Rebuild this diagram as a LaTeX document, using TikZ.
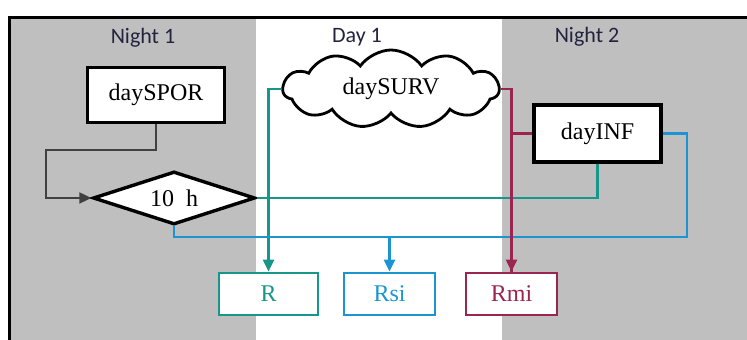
\documentclass[tikz,border=0pt]{standalone}
\usepackage{fontspec}
\setmainfont{Liberation Serif}
\newfontfamily\panelfont{Carlito}
\usetikzlibrary{arrows.meta,positioning,shapes.geometric,shapes.symbols}
\definecolor{nightgray}{HTML}{BFBFBF}
\definecolor{survteal}{HTML}{17968A}
\definecolor{siblue}{HTML}{1B95D2}
\definecolor{mimaroon}{HTML}{992550}
\definecolor{labelnavy}{HTML}{23233F}

\begin{document}
\begin{tikzpicture}[
  x=0.5pt, y=-0.5pt,
  proc/.style={draw, line width=1.7pt, fill=white, inner sep=1pt,
    font=\fontsize{12}{14}\selectfont},
  outbox/.style={draw, line width=1.4pt, fill=white, inner sep=1pt,
    minimum height=21pt, font=\fontsize{12}{14}\selectfont},
  panel/.style={font=\panelfont\fontsize{11}{13}\selectfont, text=labelnavy},
  link/.style={line width=1.1pt},
  tip/.style={-{Triangle[length=6pt,width=5.5pt]}}
]
  \useasboundingbox (0,0) rectangle (747,340);

  % panels
  \fill[nightgray] (10,18) rectangle (256,340);
  \fill[nightgray] (502,18) rectangle (747,340);
  \draw[line width=1.5pt] (9.5,340) -- (9.5,17.5) -- (747,17.5);
  \node[panel] (night1) at (143,38) {Night 1};
  \node[panel] (day1) at (357,37) {Day 1};
  \node[panel] (night2) at (587,37) {Night 2};

  % nodes
  \node[proc, minimum width=68.5pt, minimum height=27.5pt] (spor) at (156,95) {daySPOR};
  \node[proc, diamond, aspect=3, minimum width=81pt, minimum height=26.5pt] (dec) at (174,198) {10\ \ h};
  \node[proc, cloud, cloud puffs=11, cloud puff arc=110, aspect=2.9,
    minimum width=108pt, minimum height=39pt, line width=1.4pt] (surv) at (391,89) {daySURV};
  \node[proc, minimum width=63.5pt, minimum height=28.5pt] (inf) at (597.5,133.5) {dayINF};
  \node[outbox, draw=survteal, text=survteal, minimum width=49.5pt] (R) at (268.5,294) {R};
  \node[outbox, draw=siblue, text=siblue, minimum width=45.5pt] (Rsi) at (389.5,294) {Rsi};
  \node[outbox, draw=mimaroon, text=mimaroon, minimum width=45.5pt] (Rmi) at (511.5,294) {Rmi};

  \coordinate (silow) at (389.5,237);
  \coordinate (sibend) at (687,133.5);

  % connectors
  \draw[link, black!75, tip] (spor.south) -- ++(0,25.5) -| ([xshift=-22.5pt]dec.west) -- (dec.west);
  \draw[link, survteal, tip] (surv.west) -| (R.north);
  \draw[link, survteal] (dec.east) -| (inf.south);
  \draw[link, siblue] (dec.south) |- (silow) -| (sibend) -- (inf.east);
  \draw[link, siblue, tip] (silow) -- (Rsi.north);
  \draw[link, mimaroon] (surv.east) -| (Rmi.north);
  \draw[link, mimaroon, tip] (inf.west) -| (Rmi.north);
\end{tikzpicture}
\end{document}
